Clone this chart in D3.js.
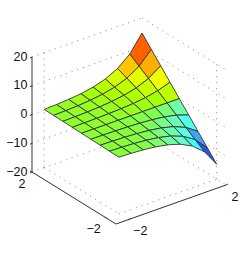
<!DOCTYPE html>
<html>
<head>
<meta charset="utf-8">
<script src="https://d3js.org/d3.v7.min.js"></script>
<style>
  html, body { margin: 0; padding: 0; background: #fff; overflow: hidden; }
  text { font-family: "Liberation Sans", sans-serif; font-size: 12.5px; fill: #111; }
</style>
</head>
<body>
<div id="chart"></div>
<script>
// mesh positions
const uValues = [2, 1.5, 1, 0.5, 0, -0.5, -1, -1.5, -2];
const vValues = [-2, -1.5, -1, -0.5, 0, 0.5, 1, 1.5, 2];

// height read per u row, left to right along v
const zValues = [
    [0.27, 0.45, 0.74, 1.21, 2.0, 3.3, 5.44, 8.96, 14.78],
    [0.2, 0.33, 0.55, 0.91, 1.5, 2.47, 4.08, 6.72, 11.08],
    [0.14, 0.22, 0.37, 0.61, 1.0, 1.65, 2.72, 4.48, 7.39],
    [0.07, 0.11, 0.18, 0.3, 0.5, 0.82, 1.36, 2.24, 3.69],
    [0, 0, 0, 0, 0, 0, 0, 0, 0],
    [-0.07, -0.11, -0.18, -0.3, -0.5, -0.82, -1.36, -2.24, -3.69],
    [-0.14, -0.22, -0.37, -0.61, -1.0, -1.65, -2.72, -4.48, -7.39],
    [-0.2, -0.33, -0.55, -0.91, -1.5, -2.47, -4.08, -6.72, -11.08],
    [-0.27, -0.45, -0.74, -1.21, -2.0, -3.3, -5.44, -8.96, -14.78]
];

const zTicks = [-20, -10, 0, 10, 20];
const uTicks = [2, -2];
const vTicks = [-2, 2];

// colour stops as read from the cells
const colorLevels = [-9, -7, -5.4, -3.6, -2, -0.8, 0, 1.5, 3, 4.5, 5.4, 6.7, 9];
const colorStops = ["#2a50f0", "#3f90ff", "#40ffff", "#60ffd0", "#70ffa0", "#80ff50", "#8cff30", "#aaff00", "#ccff00", "#eeff00", "#ffc800", "#ffb000", "#ff6000"];

const width = 249, height = 253;
const originX = 32, originY = 172;

// the floor is skewed: u runs down to the right, v runs up to the right
const uX = d3.scaleLinear().domain([2, -2.5]).range([0, 84]);
const uY = d3.scaleLinear().domain([2, -2.5]).range([0, 52]);
const vX = d3.scaleLinear().domain([-2.5, 2]).range([0, 110]);
const vY = d3.scaleLinear().domain([-2.5, 2]).range([0, -39]);
const zY = d3.scaleLinear().domain([-20, 20]).range([0, -115]);

const colorScale = d3.scaleLinear()
    .domain(colorLevels)
    .range(colorStops)
    .clamp(true);

function project(u, v, z) {
    return [originX + uX(u) + vX(v), originY + uY(u) + vY(v) + zY(z)];
}

const svg = d3.select("#chart").append("svg")
    .attr("width", width)
    .attr("height", height);

// dotted grid on the back walls and floor
const gridLines = [];
zTicks.forEach(z => {
    gridLines.push([[2, -2.5, z], [2, 2, z]]);
    gridLines.push([[2, 2, z], [-2.5, 2, z]]);
});
gridLines.push([[2, -2, -20], [2, -2, 20]]);
gridLines.push([[-2, 2, -20], [-2, 2, 20]]);
gridLines.push([[2, -2, -20], [-2, -2, -20]]);
gridLines.push([[-2, -2, -20], [-2, 2, -20]]);

svg.append("g").selectAll("line")
    .data(gridLines)
    .enter()
    .append("line")
    .attr("x1", d => project(...d[0])[0])
    .attr("y1", d => project(...d[0])[1])
    .attr("x2", d => project(...d[1])[0])
    .attr("y2", d => project(...d[1])[1])
    .attr("stroke", "#666")
    .attr("stroke-width", 0.8)
    .attr("stroke-dasharray", "1 5");

// axis lines
const axisLines = [
    [[2, -2.5, -20], [2, -2.5, 20]],
    [[2, -2.5, -20], [-2.5, -2.5, -20]],
    [[-2.5, -2.5, -20], [-2.5, 2, -20]]
];
svg.append("g").selectAll("line")
    .data(axisLines)
    .enter()
    .append("line")
    .attr("x1", d => project(...d[0])[0])
    .attr("y1", d => project(...d[0])[1])
    .attr("x2", d => project(...d[1])[0])
    .attr("y2", d => project(...d[1])[1])
    .attr("stroke", "#333")
    .attr("stroke-width", 1);

// z ticks and labels
const zAxis = svg.append("g");
zTicks.forEach(z => {
    const p = project(2, -2.5, z);
    zAxis.append("line")
        .attr("x1", p[0]).attr("y1", p[1])
        .attr("x2", p[0] - 2).attr("y2", p[1] + 1)
        .attr("stroke", "#333");
    zAxis.append("text")
        .attr("x", p[0] - 4.5)
        .attr("y", p[1] + 3.5)
        .attr("text-anchor", "end")
        .text(z < 0 ? "\u2212" + (-z) : z);
});

// floor ticks and labels
const tickGroup = svg.append("g");
uTicks.forEach(u => {
    const p = project(u, -2.5, -20);
    tickGroup.append("line")
        .attr("x1", p[0]).attr("y1", p[1])
        .attr("x2", p[0] - 2).attr("y2", p[1] - 1)
        .attr("stroke", "#333");
    tickGroup.append("text")
        .attr("x", u > 0 ? p[0] - 10 : p[0] - 13)
        .attr("y", u > 0 ? p[1] + 16 : p[1] + 15)
        .attr("text-anchor", "middle")
        .text(u < 0 ? "\u2212" + (-u) : u);
});
vTicks.forEach(v => {
    const p = project(-2.5, v, -20);
    tickGroup.append("line")
        .attr("x1", p[0]).attr("y1", p[1])
        .attr("x2", p[0] + 2).attr("y2", p[1] - 1)
        .attr("stroke", "#333");
    tickGroup.append("text")
        .attr("x", v > 0 ? p[0] + 9 : p[0] + 12)
        .attr("y", v > 0 ? p[1] + 16 : p[1] + 15)
        .attr("text-anchor", "middle")
        .text(v < 0 ? "\u2212" + (-v) : v);
});

// mesh cells, far corner first
const cells = [];
for (let i = 0; i < uValues.length - 1; i++) {
    for (let j = vValues.length - 2; j >= 0; j--) {
        cells.push({ i, j });
    }
}

svg.append("g").selectAll("path")
    .data(cells)
    .enter()
    .append("path")
    .attr("d", d => {
        const corners = [[d.i, d.j], [d.i, d.j + 1], [d.i + 1, d.j + 1], [d.i + 1, d.j]];
        return "M" + corners.map(c => project(uValues[c[0]], vValues[c[1]], zValues[c[0]][c[1]]).join(",")).join("L") + "Z";
    })
    .attr("fill", d => colorScale(zValues[d.i < 4 ? d.i : d.i + 1][d.j]))
    .attr("stroke", "#333")
    .attr("stroke-width", 0.9)
    .attr("stroke-linejoin", "round");
</script>
</body>
</html>
